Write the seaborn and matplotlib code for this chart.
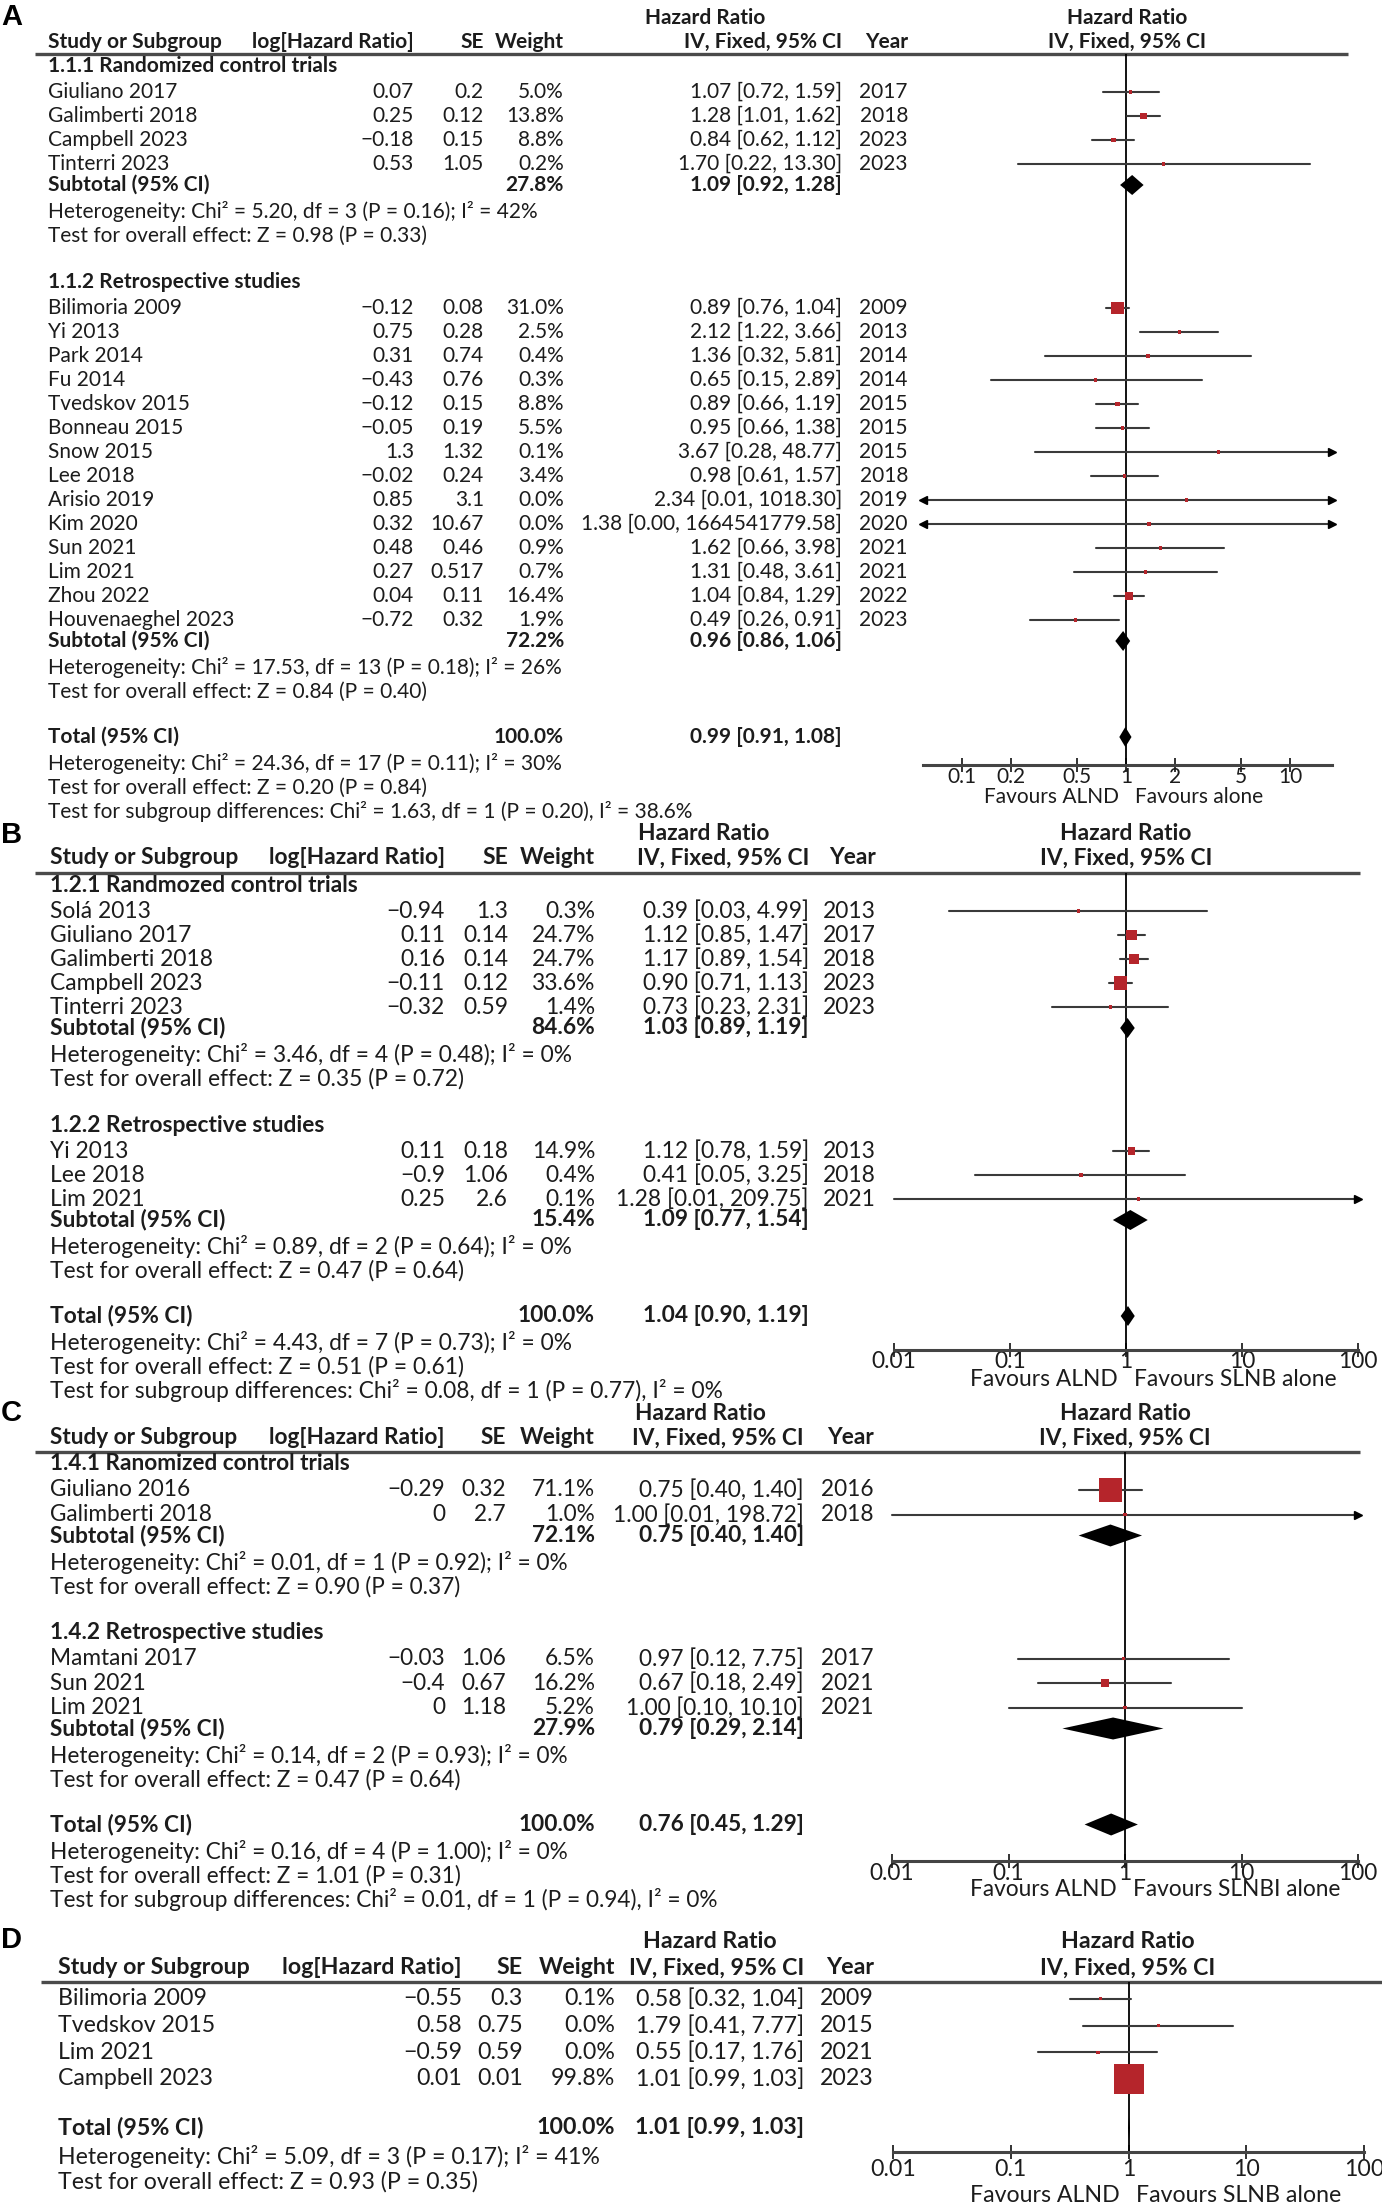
import matplotlib
matplotlib.use('Agg')
import matplotlib.pyplot as plt
from matplotlib.ticker import NullLocator
import pandas as pd
import seaborn as sns

sns.set_theme(style='white')
plt.rcParams['font.family'] = ['Lato', 'DejaVu Sans']

W, H = 1382, 2208
RED = '#b5252b'
CI_COL = '#3a3a3a'
TXT = '#1c1c1c'

# ---------------- dane: panel A ----------------
a1_title = '1.1.1 Randomized control trials'
a1_study = ['Giuliano 2017', 'Galimberti 2018', 'Campbell 2023', 'Tinterri 2023']
a1_loghr = [0.07, 0.25, -0.18, 0.53]
a1_se = [0.2, 0.12, 0.15, 1.05]
a1_weight = [5.0, 13.8, 8.8, 0.2]
a1_hr = [1.07, 1.28, 0.84, 1.70]
a1_lo = [0.72, 1.01, 0.62, 0.22]
a1_hi = [1.59, 1.62, 1.12, 13.30]
a1_year = [2017, 2018, 2023, 2023]
a1_sub = [27.8, 1.09, 0.92, 1.28]
a1_het = 'Heterogeneity: Chi² = 5.20, df = 3 (P = 0.16); I² = 42%'
a1_z = 'Test for overall effect: Z = 0.98 (P = 0.33)'

a2_title = '1.1.2 Retrospective studies'
a2_study = ['Bilimoria 2009', 'Yi 2013', 'Park 2014', 'Fu 2014', 'Tvedskov 2015', 'Bonneau 2015',
            'Snow 2015', 'Lee 2018', 'Arisio 2019', 'Kim 2020', 'Sun 2021', 'Lim 2021',
            'Zhou 2022', 'Houvenaeghel 2023']
a2_loghr = [-0.12, 0.75, 0.31, -0.43, -0.12, -0.05, 1.3, -0.02, 0.85, 0.32, 0.48, 0.27, 0.04, -0.72]
a2_se = [0.08, 0.28, 0.74, 0.76, 0.15, 0.19, 1.32, 0.24, 3.1, 10.67, 0.46, 0.517, 0.11, 0.32]
a2_weight = [31.0, 2.5, 0.4, 0.3, 8.8, 5.5, 0.1, 3.4, 0.0, 0.0, 0.9, 0.7, 16.4, 1.9]
a2_hr = [0.89, 2.12, 1.36, 0.65, 0.89, 0.95, 3.67, 0.98, 2.34, 1.38, 1.62, 1.31, 1.04, 0.49]
a2_lo = [0.76, 1.22, 0.32, 0.15, 0.66, 0.66, 0.28, 0.61, 0.01, 0.00, 0.66, 0.48, 0.84, 0.26]
a2_hi = [1.04, 3.66, 5.81, 2.89, 1.19, 1.38, 48.77, 1.57, 1018.30, 1664541779.58, 3.98, 3.61, 1.29, 0.91]
a2_year = [2009, 2013, 2014, 2014, 2015, 2015, 2015, 2018, 2019, 2020, 2021, 2021, 2022, 2023]
a2_sub = [72.2, 0.96, 0.86, 1.06]
a2_het = 'Heterogeneity: Chi² = 17.53, df = 13 (P = 0.18); I² = 26%'
a2_z = 'Test for overall effect: Z = 0.84 (P = 0.40)'

a_total = [100.0, 0.99, 0.91, 1.08]
a_foot = ['Heterogeneity: Chi² = 24.36, df = 17 (P = 0.11); I² = 30%',
          'Test for overall effect: Z = 0.20 (P = 0.84)',
          'Test for subgroup differences: Chi² = 1.63, df = 1 (P = 0.20), I² = 38.6%']
a_ticks = [0.1, 0.2, 0.5, 1, 2, 5, 10]
a_ticklabels = ['0.1', '0.2', '0.5', '1', '2', '5', '10']

# ---------------- dane: panel B ----------------
b1_title = '1.2.1 Randmozed control trials'
b1_study = ['Solá 2013', 'Giuliano 2017', 'Galimberti 2018', 'Campbell 2023', 'Tinterri 2023']
b1_loghr = [-0.94, 0.11, 0.16, -0.11, -0.32]
b1_se = [1.3, 0.14, 0.14, 0.12, 0.59]
b1_weight = [0.3, 24.7, 24.7, 33.6, 1.4]
b1_hr = [0.39, 1.12, 1.17, 0.90, 0.73]
b1_lo = [0.03, 0.85, 0.89, 0.71, 0.23]
b1_hi = [4.99, 1.47, 1.54, 1.13, 2.31]
b1_year = [2013, 2017, 2018, 2023, 2023]
b1_sub = [84.6, 1.03, 0.89, 1.19]
b1_het = 'Heterogeneity: Chi² = 3.46, df = 4 (P = 0.48); I² = 0%'
b1_z = 'Test for overall effect: Z = 0.35 (P = 0.72)'

b2_title = '1.2.2 Retrospective studies'
b2_study = ['Yi 2013', 'Lee 2018', 'Lim 2021']
b2_loghr = [0.11, -0.9, 0.25]
b2_se = [0.18, 1.06, 2.6]
b2_weight = [14.9, 0.4, 0.1]
b2_hr = [1.12, 0.41, 1.28]
b2_lo = [0.78, 0.05, 0.01]
b2_hi = [1.59, 3.25, 209.75]
b2_year = [2013, 2018, 2021]
b2_sub = [15.4, 1.09, 0.77, 1.54]
b2_het = 'Heterogeneity: Chi² = 0.89, df = 2 (P = 0.64); I² = 0%'
b2_z = 'Test for overall effect: Z = 0.47 (P = 0.64)'

b_total = [100.0, 1.04, 0.90, 1.19]
b_foot = ['Heterogeneity: Chi² = 4.43, df = 7 (P = 0.73); I² = 0%',
          'Test for overall effect: Z = 0.51 (P = 0.61)',
          'Test for subgroup differences: Chi² = 0.08, df = 1 (P = 0.77), I² = 0%']

# ---------------- dane: panel C ----------------
c1_title = '1.4.1 Ranomized control trials'
c1_study = ['Giuliano 2016', 'Galimberti 2018']
c1_loghr = [-0.29, 0]
c1_se = [0.32, 2.7]
c1_weight = [71.1, 1.0]
c1_hr = [0.75, 1.00]
c1_lo = [0.40, 0.01]
c1_hi = [1.40, 198.72]
c1_year = [2016, 2018]
c1_sub = [72.1, 0.75, 0.40, 1.40]
c1_het = 'Heterogeneity: Chi² = 0.01, df = 1 (P = 0.92); I² = 0%'
c1_z = 'Test for overall effect: Z = 0.90 (P = 0.37)'

c2_title = '1.4.2 Retrospective studies'
c2_study = ['Mamtani 2017', 'Sun 2021', 'Lim 2021']
c2_loghr = [-0.03, -0.4, 0]
c2_se = [1.06, 0.67, 1.18]
c2_weight = [6.5, 16.2, 5.2]
c2_hr = [0.97, 0.67, 1.00]
c2_lo = [0.12, 0.18, 0.10]
c2_hi = [7.75, 2.49, 10.10]
c2_year = [2017, 2021, 2021]
c2_sub = [27.9, 0.79, 0.29, 2.14]
c2_het = 'Heterogeneity: Chi² = 0.14, df = 2 (P = 0.93); I² = 0%'
c2_z = 'Test for overall effect: Z = 0.47 (P = 0.64)'

c_total = [100.0, 0.76, 0.45, 1.29]
c_foot = ['Heterogeneity: Chi² = 0.16, df = 4 (P = 1.00); I² = 0%',
          'Test for overall effect: Z = 1.01 (P = 0.31)',
          'Test for subgroup differences: Chi² = 0.01, df = 1 (P = 0.94), I² = 0%']

# ---------------- dane: panel D ----------------
d_study = ['Bilimoria 2009', 'Tvedskov 2015', 'Lim 2021', 'Campbell 2023']
d_loghr = [-0.55, 0.58, -0.59, 0.01]
d_se = [0.3, 0.75, 0.59, 0.01]
d_weight = [0.1, 0.0, 0.0, 99.8]
d_hr = [0.58, 1.79, 0.55, 1.01]
d_lo = [0.32, 0.41, 0.17, 0.99]
d_hi = [1.04, 7.77, 1.76, 1.03]
d_year = [2009, 2015, 2021, 2023]
d_total = [100.0, 1.01, 0.99, 1.03]
d_foot = ['Heterogeneity: Chi² = 5.09, df = 3 (P = 0.17); I² = 41%',
          'Test for overall effect: Z = 0.93 (P = 0.35)']

log_ticks = [0.01, 0.1, 1, 10, 100]
log_ticklabels = ['0.01', '0.1', '1', '10', '100']


def group(title, study, loghr, se, weight, hr, lo, hi, year, sub=None, het=None, z=None):
    return dict(title=title, study=study, loghr=loghr, se=se, weight=weight, hr=hr,
                lo=lo, hi=hi, year=year, sub=sub, het=het, z=z)


def num(v):
    return f'{v:g}'.replace('-', '\u2212')


def ci_text(hr, lo, hi):
    return f'{hr:.2f} [{lo:.2f}, {hi:.2f}]'


fig = plt.figure(figsize=(W / 100, H / 100), dpi=100)
bg = fig.add_axes([0, 0, 1, 1])
bg.set_xlim(0, W)
bg.set_ylim(H, 0)
bg.axis('off')
renderer = fig.canvas.get_renderer()


def fit_size(s, width):
    t = bg.text(0, 0, s, fontsize=10)
    w = t.get_window_extent(renderer).width
    t.remove()
    return 10 * width / w


def draw_panel(letter, groups, total, foot, lay, fav, ticks, ticklabels):
    fz = fit_size(lay['fit'][0], lay['fit'][1])
    s = lay.get('s', 1.0)

    def txt(x, y, t, ha='left', bold=False):
        bg.text(x, y, t, ha=ha, va='center', fontsize=fz, color=TXT,
                fontweight='bold' if bold else 'normal')

    line_y = lay['line']
    bg.text(1, lay['letter_y'], letter, fontsize=21, fontweight='bold',
            family='Liberation Sans', va='center', color='black')
    txt(lay['hrt'], lay['hr_y'], 'Hazard Ratio', 'center', True)
    txt(lay['center'], lay['hr_y'], 'Hazard Ratio', 'center', True)
    hy = lay['head_y']
    txt(lay['study'], hy, 'Study or Subgroup', bold=True)
    txt(lay['loghr'], hy, 'log[Hazard Ratio]', 'right', True)
    txt(lay['se'], hy, 'SE', 'right', True)
    txt(lay['weight'], hy, 'Weight', 'right', True)
    txt(lay['ci'], hy, 'IV, Fixed, 95% CI', 'right', True)
    txt(lay['year'], hy, 'Year', 'right', True)
    txt(lay['center'], hy, 'IV, Fixed, 95% CI', 'center', True)
    bg.plot(lay['line_x'], [line_y, line_y], color='#4a4a4a', lw=2.4, solid_capstyle='butt')

    rows = []
    diamonds = []
    y = line_y + 12
    for g in groups:
        if g['title']:
            txt(lay['study'], y, g['title'], bold=True)
            y += 26
        else:
            y = line_y + 16 * s
        last = y
        for i, name in enumerate(g['study']):
            txt(lay['study'], y, name)
            txt(lay['loghr'], y, num(g['loghr'][i]), 'right')
            txt(lay['se'], y, num(g['se'][i]), 'right')
            txt(lay['weight'], y, f"{g['weight'][i]:.1f}%", 'right')
            txt(lay['ci'], y, ci_text(g['hr'][i], g['lo'][i], g['hi'][i]), 'right')
            txt(lay['year'], y, str(g['year'][i]), 'right')
            rows.append(dict(y=y, hr=g['hr'][i], lo=g['lo'][i], hi=g['hi'][i], w=g['weight'][i]))
            last = y
            y += lay['pitch']
        y = last
        if g['sub'] is not None:
            y += 21
            txt(lay['study'], y, 'Subtotal (95% CI)', bold=True)
            txt(lay['weight'], y, f"{g['sub'][0]:.1f}%", 'right', True)
            txt(lay['ci'], y, ci_text(*g['sub'][1:]), 'right', True)
            diamonds.append((y, *g['sub'][1:]))
            y += 27
            txt(lay['study'], y, g['het'])
            y += 24
            txt(lay['study'], y, g['z'])
            y += 46
    total_y = y - 1 if groups[0]['sub'] is not None else last + 49
    txt(lay['study'], total_y, 'Total (95% CI)', bold=True)
    txt(lay['weight'], total_y, f'{total[0]:.1f}%', 'right', True)
    txt(lay['ci'], total_y, ci_text(*total[1:]), 'right', True)
    diamonds.append((total_y, *total[1:]))
    fy = total_y + 27 * s
    for k, line in enumerate(foot):
        txt(lay['study'], fy, line)
        fy += 24 * s if k == 0 else 24

    # --- forest plot
    x0, x1 = lay['ax_x']
    ya = lay['axis']
    ax = fig.add_axes([x0 / W, 1 - ya / H, (x1 - x0) / W, (ya - line_y) / H])
    ax.patch.set_alpha(0)
    df = pd.DataFrame(rows)
    side_px = (0.95 * df['w'] ** 0.75).clip(lower=3.2)
    sns.scatterplot(data=df, x='hr', y='y', marker='s', s=(side_px * 0.72) ** 2,
                    color=RED, edgecolor='none', linewidth=0, legend=False, ax=ax, zorder=4)
    ax.set_xscale('log')
    lo_lim, hi_lim = lay['xlim']
    ax.set_xlim(lo_lim, hi_lim)
    ax.set_ylim(ya, line_y)
    for r in rows:
        a = max(r['lo'], lo_lim)
        b = min(r['hi'], hi_lim)
        ax.plot([a, b], [r['y'], r['y']], color=CI_COL, lw=1.5, zorder=3, clip_on=False)
        if r['lo'] < lo_lim:
            ax.plot(lo_lim, r['y'], marker='<', ms=6, color='black', clip_on=False, zorder=5)
        if r['hi'] > hi_lim:
            ax.plot(hi_lim, r['y'], marker='>', ms=6, color='black', clip_on=False, zorder=5)
    hh = lay['hh']
    for (dy, est, dlo, dhi) in diamonds:
        ax.fill([dlo, est, dhi, est], [dy, dy - hh, dy, dy + hh], color='black', zorder=5, lw=0)
    ax.axvline(1, color='black', lw=1.3, zorder=2)

    sns.despine(ax=ax, left=True, top=True, right=True)
    ax.spines['bottom'].set_linewidth(2.2)
    ax.spines['bottom'].set_color('#444444')
    ax.set_yticks([])
    ax.set_xlabel('')
    ax.set_ylabel('')
    ax.set_xticks(ticks)
    ax.set_xticklabels(ticklabels)
    ax.xaxis.set_minor_locator(NullLocator())
    pad = lay['tick_off'] / 1.389 - 0.55 * fz - 5
    ax.tick_params(axis='x', bottom=True, direction='inout', length=10, width=1.4,
                   color='#333333', pad=pad, labelsize=fz, labelcolor=TXT)
    c = lay['center']
    txt(c - 8, ya + lay['fav_off'], 'Favours ALND', 'right')
    txt(c + 8, ya + lay['fav_off'], fav, 'left')


lay_a = dict(letter_y=17, hr_y=18, head_y=42, line=54, line_x=(35, 1348), study=48, loghr=414,
             se=484, weight=564, ci=842, year=908, hrt=705, center=1127, ax_x=(923, 1332),
             xlim=(10 ** -1.238, 10 ** 1.256), axis=765, tick_off=14, fav_off=32, hh=10, pitch=24,
             fit=(a1_het, 490))
lay_b = dict(letter_y=835, hr_y=834, head_y=858, line=873, line_x=(35, 1360), study=50, loghr=445,
             se=508, weight=595, ci=809, year=876, hrt=704, center=1126, ax_x=(894, 1358),
             xlim=(0.01, 100), axis=1350, tick_off=14, fav_off=30, hh=10, pitch=24,
             fit=(b1_het, 519))
lay_c = dict(letter_y=1413, hr_y=1414, head_y=1438, line=1452, line_x=(35, 1360), study=50,
             loghr=445, se=506, weight=595, ci=804, year=874, hrt=700, center=1125,
             ax_x=(892, 1358), xlim=(0.01, 100), axis=1861, tick_off=14, fav_off=29, hh=11,
             pitch=24.5, fit=(c1_het, 517))
lay_d = dict(letter_y=1940, hr_y=1941, head_y=1968, line=1982, line_x=(41, 1382), study=58,
             loghr=462, se=523, weight=615, ci=804, year=874, hrt=710, center=1128,
             ax_x=(893, 1364), xlim=(0.01, 100), axis=2152, tick_off=20, fav_off=43, hh=11,
             pitch=26.7, s=1.05, fit=(d_foot[0], 542))

groups_a = [group(a1_title, a1_study, a1_loghr, a1_se, a1_weight, a1_hr, a1_lo, a1_hi, a1_year,
                  a1_sub, a1_het, a1_z),
            group(a2_title, a2_study, a2_loghr, a2_se, a2_weight, a2_hr, a2_lo, a2_hi, a2_year,
                  a2_sub, a2_het, a2_z)]
groups_b = [group(b1_title, b1_study, b1_loghr, b1_se, b1_weight, b1_hr, b1_lo, b1_hi, b1_year,
                  b1_sub, b1_het, b1_z),
            group(b2_title, b2_study, b2_loghr, b2_se, b2_weight, b2_hr, b2_lo, b2_hi, b2_year,
                  b2_sub, b2_het, b2_z)]
groups_c = [group(c1_title, c1_study, c1_loghr, c1_se, c1_weight, c1_hr, c1_lo, c1_hi, c1_year,
                  c1_sub, c1_het, c1_z),
            group(c2_title, c2_study, c2_loghr, c2_se, c2_weight, c2_hr, c2_lo, c2_hi, c2_year,
                  c2_sub, c2_het, c2_z)]
groups_d = [group(None, d_study, d_loghr, d_se, d_weight, d_hr, d_lo, d_hi, d_year)]

draw_panel('A', groups_a, a_total, a_foot, lay_a, 'Favours alone', a_ticks, a_ticklabels)
draw_panel('B', groups_b, b_total, b_foot, lay_b, 'Favours SLNB alone', log_ticks, log_ticklabels)
draw_panel('C', groups_c, c_total, c_foot, lay_c, 'Favours SLNBI alone', log_ticks, log_ticklabels)
draw_panel('D', groups_d, d_total, d_foot, lay_d, 'Favours SLNB alone', log_ticks, log_ticklabels)

fig.savefig('out.png', dpi=100, facecolor='white')
